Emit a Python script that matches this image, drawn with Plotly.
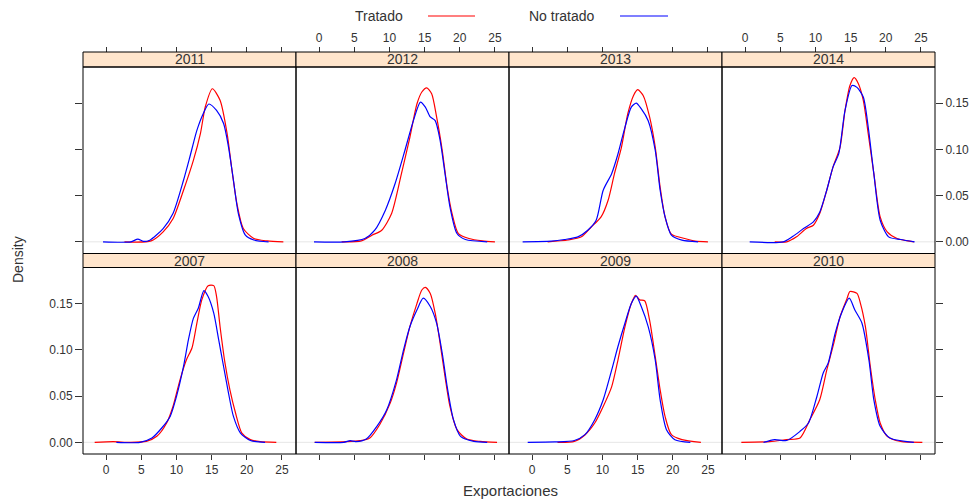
import plotly.graph_objects as go

# ---------------- data ----------------
years = ["2011", "2012", "2013", "2014", "2007", "2008", "2009", "2010"]
group_names = ["Tratado", "No tratado"]
x_ticks = [0, 5, 10, 15, 20, 25]
y_ticks = [0.0, 0.05, 0.10, 0.15]
y_tick_labels = ["0.00", "0.05", "0.10", "0.15"]

x_2011_t = [2.6, 6.4, 8.1, 9.5, 11.0, 12.4, 13.4, 14.1, 15.1, 16.2, 17.2, 17.9, 18.6, 19.5, 21.0, 22.9, 25.2]
y_2011_t = [0, 0.001, 0.0108, 0.025, 0.0558, 0.088, 0.117, 0.146, 0.1655, 0.153, 0.117, 0.077, 0.041, 0.0144, 0.0036, 0.001, 0]
x_2011_n = [-0.45, 3.5, 4.5, 5.3, 6.2, 8.1, 9.5, 11.0, 11.9, 12.9, 13.8, 14.6, 15.7, 16.7, 17.4, 18.1, 18.8, 19.8, 21.0, 23.1]
y_2011_n = [0, 0, 0.003, 0.0005, 0.0018, 0.0144, 0.0306, 0.0666, 0.0917, 0.1205, 0.1385, 0.149, 0.142, 0.128, 0.1025, 0.0666, 0.0306, 0.0072, 0.002, 0]

x_2012_t = [3.2, 6.0, 7.5, 8.9, 10.3, 11.7, 12.9, 13.9, 14.6, 15.3, 16.0, 16.7, 17.5, 18.2, 18.9, 19.8, 21.3, 23.2, 25.0]
y_2012_t = [0, 0.001, 0.0072, 0.0126, 0.0306, 0.0737, 0.113, 0.149, 0.162, 0.1665, 0.160, 0.135, 0.099, 0.059, 0.0306, 0.009, 0.0036, 0.001, 0]
x_2012_n = [-0.74, 3.6, 6.5, 7.9, 9.4, 10.8, 12.2, 13.4, 14.4, 15.1, 15.8, 16.5, 17.2, 17.9, 18.6, 19.6, 20.8, 23.9]
y_2012_n = [0, 0, 0.0036, 0.0126, 0.034, 0.063, 0.099, 0.131, 0.151, 0.1457, 0.135, 0.131, 0.1097, 0.0737, 0.0378, 0.009, 0.0025, 0]

x_2013_t = [2.2, 5.1, 7.0, 8.4, 9.8, 10.8, 11.7, 12.7, 13.6, 14.4, 15.0, 15.8, 16.7, 17.5, 18.2, 18.9, 19.8, 21.7, 23.2, 25.0]
y_2013_t = [0, 0.002, 0.0054, 0.016, 0.027, 0.045, 0.0737, 0.1025, 0.1385, 0.158, 0.1645, 0.158, 0.135, 0.1025, 0.059, 0.027, 0.0083, 0.0036, 0.0007, 0]
x_2013_n = [-1.36, 2.7, 4.6, 6.5, 7.9, 9.1, 10.1, 11.3, 12.2, 13.2, 14.1, 14.8, 15.5, 16.5, 17.5, 18.2, 18.9, 19.8, 21.3, 23.6]
y_2013_n = [0, 0.0007, 0.0025, 0.0054, 0.0126, 0.0234, 0.0558, 0.0737, 0.095, 0.124, 0.1457, 0.150, 0.144, 0.131, 0.099, 0.0558, 0.027, 0.0072, 0.0018, 0]

x_2014_t = [4.2, 5.9, 7.3, 8.7, 9.7, 10.6, 11.6, 12.5, 13.5, 14.2, 14.9, 15.5, 16.1, 16.8, 17.5, 18.3, 19.2, 20.2, 21.6, 24.0]
y_2014_t = [0, 0, 0.0054, 0.0144, 0.018, 0.0306, 0.0558, 0.081, 0.1025, 0.142, 0.169, 0.1775, 0.171, 0.153, 0.117, 0.0737, 0.027, 0.0108, 0.0036, 0]
x_2014_n = [0.64, 5.4, 6.8, 8.3, 9.7, 10.6, 11.6, 12.5, 13.3, 14.2, 15.2, 15.9, 16.8, 17.5, 18.3, 19.2, 20.4, 22.1, 24.1]
y_2014_n = [0, 0, 0.006, 0.0144, 0.0216, 0.032, 0.0558, 0.081, 0.095, 0.142, 0.169, 0.167, 0.1565, 0.124, 0.0737, 0.0234, 0.0054, 0.0025, 0]

x_2007_t = [-1.64, 1.0, 3.4, 5.7, 7.2, 8.6, 9.5, 10.5, 11.4, 12.2, 12.9, 13.6, 14.5, 15.3, 15.7, 16.2, 16.9, 17.6, 18.4, 19.3, 20.5, 21.9, 24.2]
y_2007_t = [0, 0.0007, 0, 0.001, 0.0065, 0.0209, 0.0388, 0.0676, 0.089, 0.102, 0.129, 0.154, 0.1694, 0.1694, 0.1576, 0.125, 0.0856, 0.0568, 0.0317, 0.010, 0.0029, 0.0007, 0]
x_2007_n = [1.45, 4.8, 6.5, 7.9, 9.1, 10.0, 11.0, 11.7, 12.4, 13.1, 13.9, 14.5, 15.3, 16.0, 16.7, 17.4, 18.1, 19.1, 20.5, 22.6]
y_2007_n = [0, 0, 0.0047, 0.0155, 0.028, 0.0496, 0.082, 0.111, 0.134, 0.145, 0.164, 0.1576, 0.1396, 0.111, 0.082, 0.0532, 0.028, 0.010, 0.002, 0]

x_2008_t = [-0.64, 3.9, 5.8, 7.2, 8.6, 10.1, 11.0, 12.0, 12.9, 13.9, 14.6, 15.1, 15.8, 16.5, 17.2, 17.9, 18.6, 19.6, 21.0, 22.9, 25.3]
y_2008_t = [0, 0.0007, 0.0018, 0.0047, 0.019, 0.0424, 0.064, 0.0964, 0.125, 0.150, 0.1647, 0.1676, 0.161, 0.1396, 0.107, 0.071, 0.0388, 0.0137, 0.0036, 0.001, 0]
x_2008_n = [-0.64, 3.5, 4.4, 5.2, 6.7, 8.2, 9.6, 11.0, 12.0, 12.9, 13.9, 14.8, 15.8, 16.7, 17.5, 18.2, 19.1, 20.1, 22.0, 23.9]
y_2008_n = [0, 0, 0.0018, 0.0008, 0.0036, 0.0173, 0.035, 0.0676, 0.100, 0.125, 0.143, 0.1558, 0.1468, 0.1288, 0.0964, 0.0604, 0.0245, 0.0065, 0.001, 0]

x_2009_t = [3.6, 6.0, 7.5, 8.9, 10.1, 11.3, 12.2, 13.2, 14.1, 14.7, 15.3, 16.0, 16.7, 17.5, 18.2, 18.9, 19.8, 21.3, 24.0]
y_2009_t = [0, 0.001, 0.008, 0.0209, 0.0388, 0.060, 0.089, 0.125, 0.150, 0.159, 0.154, 0.153, 0.132, 0.0928, 0.0568, 0.028, 0.0083, 0.0029, 0]
x_2009_n = [-0.64, 3.2, 6.0, 7.5, 8.9, 10.1, 11.3, 12.2, 13.2, 14.1, 14.8, 15.5, 16.5, 17.5, 18.2, 19.1, 20.3, 22.5]
y_2009_n = [0, 0.0004, 0.002, 0.0083, 0.0245, 0.046, 0.078, 0.1036, 0.129, 0.150, 0.158, 0.147, 0.125, 0.089, 0.046, 0.0137, 0.0029, 0]

x_2010_t = [-0.55, 3.5, 5.9, 7.8, 9.2, 10.6, 11.6, 12.6, 13.5, 14.5, 14.9, 15.9, 16.4, 17.1, 17.8, 18.5, 19.2, 20.2, 22.1, 25.2]
y_2010_t = [0, 0.0007, 0.003, 0.0047, 0.0245, 0.046, 0.078, 0.107, 0.136, 0.1558, 0.163, 0.161, 0.150, 0.125, 0.082, 0.046, 0.0209, 0.0065, 0.001, 0]
x_2010_n = [2.6, 4.2, 5.9, 7.8, 9.0, 10.2, 11.1, 11.8, 12.8, 13.7, 14.8, 15.6, 16.6, 17.6, 18.3, 19.2, 20.6, 24.0]
y_2010_n = [0, 0.003, 0.002, 0.0119, 0.0209, 0.0496, 0.075, 0.0856, 0.118, 0.1396, 0.1558, 0.143, 0.129, 0.089, 0.046, 0.0173, 0.0047, 0]

panel_data = {
    "2011": [(x_2011_t, y_2011_t), (x_2011_n, y_2011_n)],
    "2012": [(x_2012_t, y_2012_t), (x_2012_n, y_2012_n)],
    "2013": [(x_2013_t, y_2013_t), (x_2013_n, y_2013_n)],
    "2014": [(x_2014_t, y_2014_t), (x_2014_n, y_2014_n)],
    "2007": [(x_2007_t, y_2007_t), (x_2007_n, y_2007_n)],
    "2008": [(x_2008_t, y_2008_t), (x_2008_n, y_2008_n)],
    "2009": [(x_2009_t, y_2009_t), (x_2009_n, y_2009_n)],
    "2010": [(x_2010_t, y_2010_t), (x_2010_n, y_2010_n)],
}

# ---------------- styling / layout ----------------
W, H = 980, 499
colors = ["#FF0000", "#0000FF"]
TXT = "#333333"
FONT = "Liberation Sans, Arial, sans-serif"
STRIP_FILL = "#ffe5cc"

panel_left0, panel_w = 83, 213
rows_px = {0: (67.0, 253.5), 1: (267.5, 454.0)}      # plot area top/bottom (px)
strips_px = {0: (52.0, 67.0), 1: (253.5, 267.5)}

def px_x(v):
    return v / W

def px_y(v):
    return 1 - v / H

fig = go.Figure()
layout = dict(
    width=W, height=H,
    margin=dict(l=0, r=0, t=0, b=0),
    paper_bgcolor="white", plot_bgcolor="white",
    showlegend=False,
    font=dict(family=FONT, color=TXT),
)
shapes, annotations = [], []

for i, yr in enumerate(years):
    n = i + 1
    row, col = divmod(i, 4)
    xs = "" if n == 1 else str(n)
    x0p = panel_left0 + panel_w * col
    x1p = x0p + panel_w
    top, bot = rows_px[row]

    for g, (xv, yv) in enumerate(panel_data[yr]):
        fig.add_trace(go.Scatter(
            x=xv, y=yv, mode="lines", name=group_names[g],
            line=dict(color=colors[g], width=1.2, shape="spline", smoothing=0.7),
            xaxis="x" + xs, yaxis="y" + xs, hoverinfo="x+y+name",
        ))

    xa = dict(
        domain=[px_x(x0p), px_x(x1p)], range=[-3.3, 27.0],
        tickvals=x_ticks, ticks="outside", ticklen=5, tickwidth=1, tickcolor=TXT,
        showline=False, showgrid=False, zeroline=False,
        tickfont=dict(size=12, color=TXT, family=FONT),
    )
    if row == 0:
        xa.update(side="top", anchor="free", position=px_y(strips_px[0][0]),
                  showticklabels=(col in (1, 3)))
    else:
        xa.update(side="bottom", anchor="y" + xs, showticklabels=(col in (0, 2)))

    ya = dict(
        domain=[px_y(bot), px_y(top)], range=[-0.0126, 0.189],
        tickvals=y_ticks, ticktext=y_tick_labels, anchor="x" + xs,
        showline=False, showgrid=False, zeroline=False,
        tickfont=dict(size=12, color=TXT, family=FONT),
        ticklen=7, tickwidth=1, tickcolor=TXT,
    )
    if col == 0:
        ya.update(side="left", ticks="outside", showticklabels=(row == 1))
    elif col == 3:
        ya.update(side="right", ticks="outside", showticklabels=(row == 0))
    else:
        ya.update(ticks="", showticklabels=False)

    layout["xaxis" + xs] = xa
    layout["yaxis" + xs] = ya

    # zero reference line
    shapes.append(dict(type="line", xref=f"x{xs} domain", yref="y" + xs,
                       x0=0, x1=1, y0=0, y1=0, layer="below",
                       line=dict(color="#e6e6e6", width=1)))
    # strip
    st, sb = strips_px[row]
    shapes.append(dict(type="rect", xref="paper", yref="paper",
                       x0=px_x(x0p), x1=px_x(x1p), y0=px_y(sb), y1=px_y(st),
                       fillcolor=STRIP_FILL, line=dict(color="black", width=1)))
    annotations.append(dict(text=yr, xref="paper", yref="paper",
                            x=px_x((x0p + x1p) / 2), y=px_y((st + sb) / 2),
                            showarrow=False, xanchor="center", yanchor="middle",
                            font=dict(size=14, color=TXT, family=FONT)))
    # panel border
    shapes.append(dict(type="rect", xref="paper", yref="paper",
                       x0=px_x(x0p), x1=px_x(x1p), y0=px_y(bot), y1=px_y(top),
                       line=dict(color="black", width=1), fillcolor="rgba(0,0,0,0)"))

# legend (key on top)
legend_items = [("Tratado", 378.5, 428, 475), ("No tratado", 561.5, 620, 668)]
for g, (lab, tx, l0, l1) in enumerate(legend_items):
    annotations.append(dict(text=lab, xref="paper", yref="paper",
                            x=px_x(tx), y=px_y(16), showarrow=False,
                            xanchor="center", yanchor="middle",
                            font=dict(size=14, color=TXT, family=FONT)))
    shapes.append(dict(type="line", xref="paper", yref="paper",
                       x0=px_x(l0), x1=px_x(l1), y0=px_y(16), y1=px_y(16),
                       line=dict(color=colors[g], width=1.2)))

# axis titles
annotations.append(dict(text="Exportaciones", xref="paper", yref="paper",
                        x=px_x(510), y=px_y(490), showarrow=False,
                        xanchor="center", yanchor="middle",
                        font=dict(size=15, color=TXT, family=FONT)))
annotations.append(dict(text="Density", xref="paper", yref="paper",
                        x=px_x(18), y=px_y(260), showarrow=False, textangle=-90,
                        xanchor="center", yanchor="middle",
                        font=dict(size=14, color=TXT, family=FONT)))

layout["shapes"] = shapes
layout["annotations"] = annotations
fig.update_layout(**layout)

fig.write_html(
    "out.html",
    config={"displayModeBar": False},
    post_script="document.body.style.margin='0px';document.body.style.padding='0px';document.body.style.overflow='hidden';",
)
